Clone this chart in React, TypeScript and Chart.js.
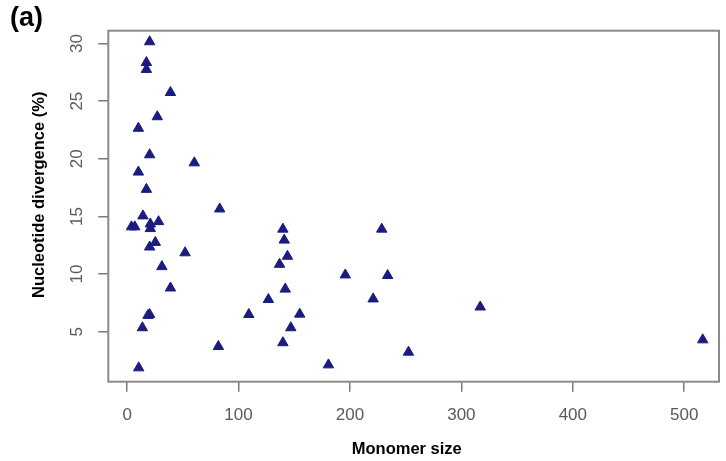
import React, { useEffect, useRef } from "react";
import { Chart, registerables } from "chart.js";

Chart.register(...registerables);

const monomerSize: number[] = [
  20.2, 17.3, 17.3, 38.9, 27.1, 10.1, 20.2, 60.3, 10.1, 17.3,
  83.1, 14.2, 3.9, 6.9, 20.8, 28.2, 20.8, 25.3, 20.2, 52,
  31.2, 38.9, 20.2, 18.7, 109.2, 13.7, 81.9, 10.4, 139.8, 141,
  143.9, 136.8, 195.8, 228.5, 233.8, 141.9, 126.8, 220.8, 154.9, 146.9,
  139.8, 180.7, 252.5, 316.9, 516.6,
];
const divergence: number[] = [
  30.15, 28.35, 27.75, 25.75, 23.65, 22.65, 20.35, 19.65, 18.85, 17.35,
  15.65, 15.05, 14.1, 14.1, 14.35, 14.55, 13.95, 12.75, 12.35, 11.85,
  10.65, 8.8, 6.5, 6.42, 6.5, 5.35, 3.72, 1.87, 13.9, 12.95,
  11.55, 10.85, 9.93, 13.9, 9.88, 8.7, 7.8, 7.85, 6.53, 5.35,
  4.05, 2.13, 3.23, 7.15, 4.3,
];
const xTicks: number[] = [0, 100, 200, 300, 400, 500];
const yTicks: number[] = [5, 10, 15, 20, 25, 30];

const FONT = "'Liberation Sans', Arial, Helvetica, sans-serif";

const boxPlugin = {
  id: "boxPlugin",
  afterDraw(chart: any) {
    const { ctx, chartArea } = chart;
    ctx.save();
    ctx.strokeStyle = "#8a8a8a";
    ctx.lineWidth = 2;
    ctx.strokeRect(
      chartArea.left,
      chartArea.top,
      chartArea.right - chartArea.left,
      chartArea.bottom - chartArea.top
    );
    ctx.restore();
  },
};

export default function App() {
  const canvasRef = useRef<HTMLCanvasElement | null>(null);

  useEffect(() => {
    if (!canvasRef.current) return;
    const points = monomerSize.map((x, i) => ({ x, y: divergence[i] }));
    const chart = new Chart(canvasRef.current, {
      type: "scatter",
      data: {
        datasets: [
          {
            data: points,
            pointStyle: "triangle",
            pointRadius: 6,
            pointBackgroundColor: "#1b1b80",
            pointBorderColor: "#1b1b80",
            pointBorderWidth: 1,
          },
        ],
      },
      options: {
        responsive: false,
        animation: false,
        devicePixelRatio: 1,
        layout: { padding: { top: 30.7, right: 2, left: 0, bottom: 0 } },
        plugins: {
          legend: { display: false },
          tooltip: { enabled: false },
        },
        scales: {
          x: {
            type: "linear",
            min: -16.9,
            max: 531.2,
            afterBuildTicks: (scale: any) => {
              scale.ticks = xTicks.map((v) => ({ value: v }));
            },
            afterFit: (scale: any) => {
              scale.height = 79.3;
            },
            border: { display: false },
            grid: {
              drawOnChartArea: false,
              drawTicks: true,
              tickLength: 10,
              color: "#7a7a7a",
              lineWidth: 1.5,
            },
            ticks: {
              autoSkip: false,
              maxRotation: 0,
              minRotation: 0,
              padding: 13,
              color: "#5a5a5a",
              font: { family: FONT, size: 17 },
            },
            title: {
              display: true,
              text: "Monomer size   ",
              color: "#000",
              font: { family: FONT, size: 16.5, weight: "bold" },
              padding: { top: 0, bottom: 2 },
            },
          },
          y: {
            type: "linear",
            min: 0.67,
            max: 31.11,
            afterBuildTicks: (scale: any) => {
              scale.ticks = yTicks.map((v) => ({ value: v }));
            },
            afterFit: (scale: any) => {
              scale.width = 108.3;
            },
            border: { display: false },
            grid: {
              drawOnChartArea: false,
              drawTicks: true,
              tickLength: 10,
              color: "#7a7a7a",
              lineWidth: 1.5,
            },
            ticks: {
              autoSkip: false,
              minRotation: 90,
              maxRotation: 90,
              crossAlign: "center",
              padding: 12,
              color: "#5a5a5a",
              font: { family: FONT, size: 17 },
            },
            title: {
              display: true,
              text: "     Nucleotide divergence (%)",
              color: "#000",
              font: { family: FONT, size: 16.5, weight: "bold" },
              padding: { top: 30, bottom: 0 },
            },
          },
        },
      },
      plugins: [boxPlugin],
    });
    return () => chart.destroy();
  }, []);

  return (
    <div
      style={{
        position: "fixed",
        left: 0,
        top: 0,
        width: 726,
        height: 461,
        background: "#fff",
      }}
    >
      <canvas
        ref={canvasRef}
        width={726}
        height={461}
        style={{ display: "block", width: 726, height: 461 }}
      />
      <div
        style={{
          position: "absolute",
          left: 10,
          top: 4,
          fontFamily: FONT,
          fontWeight: "bold",
          fontSize: 27,
          lineHeight: 1,
          color: "#000",
        }}
      >
        (a)
      </div>
    </div>
  );
}
